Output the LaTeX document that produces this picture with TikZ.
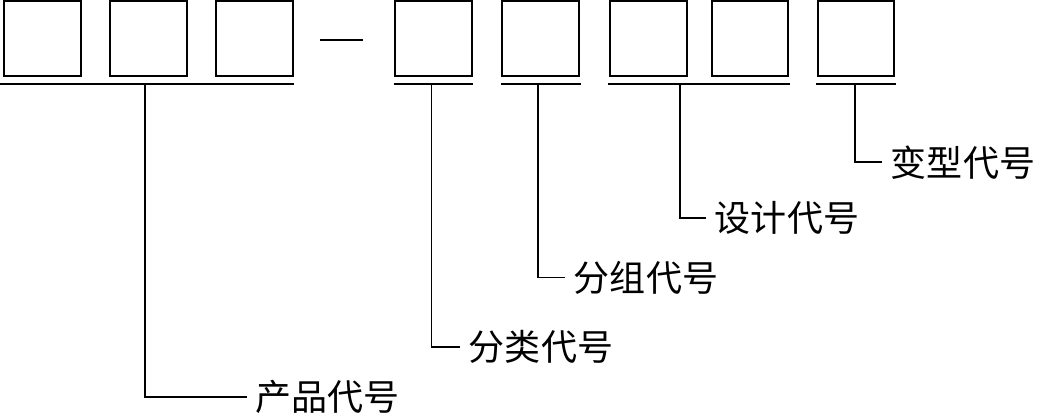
\documentclass[tikz,border=0pt]{standalone}
\usepackage{fontspec}
\newfontfamily\cjk{Noto Sans CJK SC}
\usetikzlibrary{positioning}

\begin{document}
\begin{tikzpicture}[
  x=0.02cm, y=-0.02cm,
  line width=1.1pt,
  codebox/.style={draw, minimum width=1.53cm, minimum height=1.5cm, inner sep=0pt},
  fieldlabel/.style={anchor=west, font=\cjk\fontsize{20.5}{24}\selectfont,
                     inner xsep=0.16cm, inner ysep=0pt},
]
\useasboundingbox (0,0) rectangle (1039,413);

% Code boxes
\node[codebox] (b1) at (42.3,38.8) {};
\node[codebox] (b2) at (148.5,38.8) {};
\node[codebox] (b3) at (254.7,38.8) {};
\node[codebox] (b4) at (433.5,38.8) {};
\node[codebox] (b5) at (540.5,38.8) {};
\node[codebox] (b6) at (648.3,38.8) {};
\node[codebox] (b7) at (749.8,38.8) {};
\node[codebox] (b8) at (856,38.8) {};

% Dash
\draw (320,40) -- (363.3,40);

% Underlines
\draw (0,84.3) -- (294.3,84.3);
\draw (393.7,84.3) -- (473.3,84.3);
\draw (501,84.3) -- (580.7,84.3);
\draw (608.3,84.3) -- (789.7,84.3);
\draw (816.3,84.3) -- (895.7,84.3);

% Stems
\coordinate (s1) at (144.7,84.3);
\coordinate (s2) at (431.5,84.3);
\coordinate (s3) at (538,84.3);
\coordinate (s4) at (680.3,84.3);
\coordinate (s5) at (855.3,84.3);

% Labels
\node[fieldlabel] (l1) at (246.7,396.7) {产品代号};
\node[fieldlabel] (l2) at (460,347.3) {分类代号};
\node[fieldlabel] (l3) at (565,277.5) {分组代号};
\node[fieldlabel] (l4) at (706,217.7) {设计代号};
\node[fieldlabel] (l5) at (882,162.3) {变型代号};

% Leaders
\draw (s1) |- (l1.west);
\draw (s2) |- (l2.west);
\draw (s3) |- (l3.west);
\draw (s4) |- (l4.west);
\draw (s5) |- (l5.west);

\end{tikzpicture}
\end{document}
